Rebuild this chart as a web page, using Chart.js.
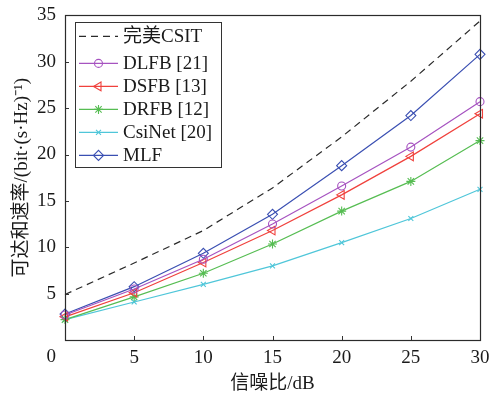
<!DOCTYPE html>
<html>
<head>
<meta charset="utf-8">
<script src="https://cdn.jsdelivr.net/npm/chart.js@4"></script>
<style>
html,body{margin:0;padding:0;background:#fff;}
#wrap{width:490px;height:397px;position:relative;}
</style>
</head>
<body>
<div id="wrap"><canvas id="c" width="490" height="397"></canvas></div>
<script>
// ---- data ----
const snr = [0, 5, 10, 15, 20, 25, 30];
const csit   = [4.9, 8.3, 11.8, 16.4, 21.9, 27.9, 34.4];
const dlfb   = [2.7, 5.5, 8.7, 12.5, 16.6, 20.8, 25.7];
const dsfb   = [2.5, 5.1, 8.35, 11.8, 15.65, 19.8, 24.4];
const drfb   = [2.2, 4.65, 7.2, 10.35, 13.9, 17.1, 21.5];
const csinet = [2.2, 4.1, 6.0, 8.0, 10.5, 13.1, 16.25];
const mlf    = [2.8, 5.75, 9.35, 13.55, 18.8, 24.2, 30.8];
const seriesNames = ['完美CSIT', 'DLFB [21]', 'DSFB [13]', 'DRFB [12]', 'CsiNet [20]', 'MLF'];
const xTicks = [0, 5, 10, 15, 20, 25, 30];
const yTicks = [0, 5, 10, 15, 20, 25, 30, 35];
const xTitle = '信噪比/dB';
const yTitle = '可达和速率/(bit·(s·Hz)⁻¹)';

const FONT = '"Liberation Serif", "Times New Roman", "Noto Sans CJK SC", serif';
const pts = arr => snr.map((x, i) => ({x: x, y: arr[i]}));

function ds(label, arr, color, style, radius, rot, dash) {
  return {
    label: label, data: pts(arr), borderColor: color, backgroundColor: 'rgba(0,0,0,0)',
    borderWidth: 1.2, pointStyle: style, pointRadius: radius, pointRotation: rot || 0,
    pointBorderColor: color, pointBackgroundColor: 'rgba(0,0,0,0)', pointBorderWidth: 1.1,
    borderDash: dash || [], tension: 0, clip: false
  };
}

const datasets = [
  ds(seriesNames[0], csit, '#2a2a2a', false, 0, 0, [7, 5]),
  ds(seriesNames[1], dlfb, '#a653c0', 'circle', 4),
  ds(seriesNames[2], dsfb, '#f0413c', 'triangle', 5, 270),
  ds(seriesNames[3], drfb, '#56bd52', 'star', 4.5),
  ds(seriesNames[4], csinet, '#4fc6d9', 'crossRot', 3.5),
  ds(seriesNames[5], mlf, '#3a4fb2', 'rectRot', 5)
];

const framePlugin = {
  id: 'frame',
  afterDraw(chart) {
    const ctx = chart.ctx, a = chart.chartArea;
    ctx.save();
    // inward ticks
    ctx.strokeStyle = '#333'; ctx.lineWidth = 1;
    const xs = chart.scales.x, ys = chart.scales.y;
    ctx.beginPath();
    xs.ticks.forEach(t => {
      const px = Math.round(xs.getPixelForValue(t.value)) + 0.5;
      ctx.moveTo(px, a.bottom); ctx.lineTo(px, a.bottom - 4);
    });
    ys.ticks.forEach(t => {
      const py = Math.round(ys.getPixelForValue(t.value)) + 0.5;
      ctx.moveTo(a.left, py); ctx.lineTo(a.left + 4, py);
    });
    ctx.stroke();
    // box
    ctx.strokeStyle = '#2b2b2b'; ctx.lineWidth = 1.2;
    ctx.strokeRect(Math.round(a.left) + 0.5, Math.round(a.top) + 0.5,
                   Math.round(a.right - a.left), Math.round(a.bottom - a.top));
    // legend
    const lx = a.left + 10, ly = a.top + 7, lw = 146, lh = 145;
    ctx.fillStyle = '#fff';
    ctx.fillRect(lx, ly, lw, lh);
    ctx.strokeStyle = '#333'; ctx.lineWidth = 1;
    ctx.strokeRect(Math.round(lx) + 0.5, Math.round(ly) + 0.5, lw, lh);
    ctx.font = '19px ' + FONT;
    ctx.textBaseline = 'middle'; ctx.textAlign = 'left';
    chart.data.datasets.forEach((d, i) => {
      const ry = i === 0 ? ly + 14 : ly + 41 + (i - 1) * 23;
      ctx.save();
      ctx.strokeStyle = d.borderColor; ctx.lineWidth = d.borderWidth;
      ctx.setLineDash(d.borderDash);
      ctx.beginPath(); ctx.moveTo(lx + 4, ry); ctx.lineTo(lx + 43, ry); ctx.stroke();
      ctx.setLineDash([]);
      if (d.pointStyle) {
        ctx.lineWidth = d.pointBorderWidth;
        ctx.strokeStyle = d.pointBorderColor; ctx.fillStyle = 'rgba(0,0,0,0)';
        Chart.helpers.drawPoint(ctx, {pointStyle: d.pointStyle, radius: d.pointRadius,
          rotation: d.pointRotation, borderWidth: d.pointBorderWidth}, lx + 23.5, ry);
      }
      ctx.restore();
      ctx.fillStyle = '#1a1a1a';
      ctx.fillText(d.label, lx + 48, ry + 1);
    });
    ctx.restore();
  }
};

const hiddenGrid = {display: true, drawOnChartArea: false, drawTicks: true,
                    color: 'rgba(0,0,0,0)', tickColor: 'rgba(0,0,0,0)'};

new Chart(document.getElementById('c'), {
  type: 'line',
  data: {datasets: datasets},
  plugins: [framePlugin],
  options: {
    responsive: false, animation: false,
    layout: {padding: {left: 0, top: 14, right: 10, bottom: 0}},
    plugins: {legend: {display: false}, tooltip: {enabled: false}},
    scales: {
      x: {
        type: 'linear', min: 0, max: 30,
        afterBuildTicks: s => { s.ticks = xTicks.map(v => ({value: v})); },
        afterFit: s => { s.height = 57; },
        grid: Object.assign({tickLength: 7}, hiddenGrid),
        border: {display: false},
        ticks: {font: {family: FONT, size: 19}, color: '#1a1a1a', padding: 0,
                maxRotation: 0, autoSkip: false,
                callback: v => (v === 0 ? '' : String(v))},
        title: {display: true, text: xTitle, font: {family: FONT, size: 19}, color: '#1a1a1a',
                padding: {top: 0, bottom: 2}}
      },
      y: {
        type: 'linear', min: 0, max: 35,
        afterBuildTicks: s => { s.ticks = yTicks.map(v => ({value: v})); },
        afterFit: s => { s.width = 65; },
        grid: Object.assign({tickLength: 5}, hiddenGrid),
        border: {display: false},
        ticks: {font: c => ({family: FONT, size: 19, lineHeight: (c.tick && c.tick.value === 0) ? 1.75 : 1.2}),
                color: '#1a1a1a', padding: 4, autoSkip: false,
                callback: v => (v === 0 ? ['', '0'] : String(v))},
        title: {display: true, text: yTitle, font: {family: FONT, size: 19}, color: '#1a1a1a',
                padding: {top: 11, bottom: 0}}
      }
    }
  }
});
</script>
</body>
</html>
